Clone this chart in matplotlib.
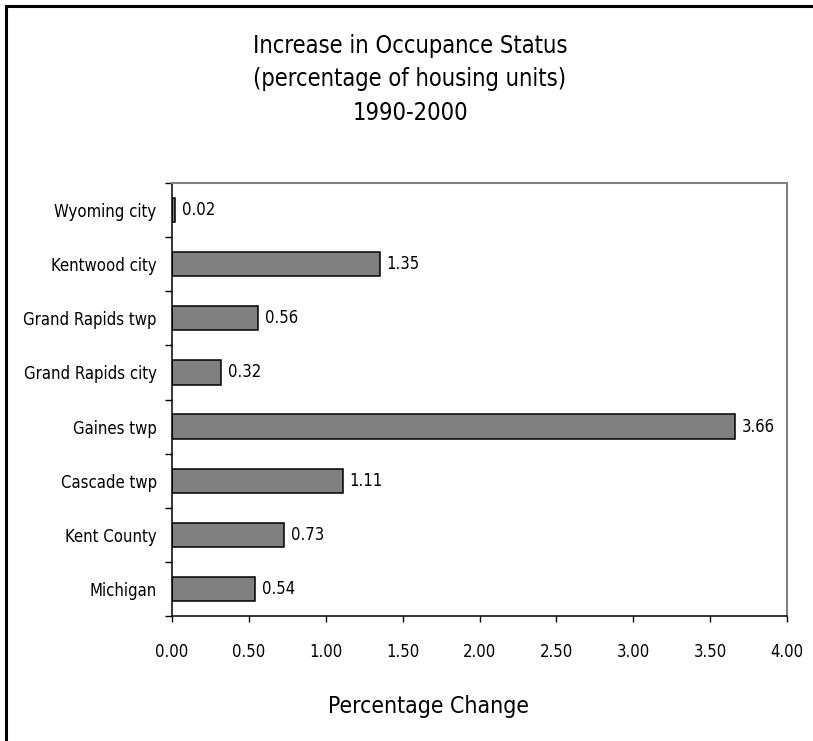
import matplotlib
matplotlib.use("Agg")
import matplotlib.pyplot as plt
from matplotlib.lines import Line2D
import numpy as np

plt.rcParams['font.family'] = ['DejaVu Sans']
plt.rcParams['font.stretch'] = 'condensed'

categories = ["Michigan", "Kent County", "Cascade twp", "Gaines twp",
              "Grand Rapids city", "Grand Rapids twp", "Kentwood city", "Wyoming city"]
values = [0.54, 0.73, 1.11, 3.66, 0.32, 0.56, 1.35, 0.02]
xticks = [0.0, 0.5, 1.0, 1.5, 2.0, 2.5, 3.0, 3.5, 4.0]
title_lines = ["Increase in Occupance Status", "(percentage of housing units)", "1990-2000"]
xlabel = "Percentage Change"

W, H = 813, 741
fig = plt.figure(figsize=(W / 100, H / 100), dpi=100)
ax = fig.add_axes([172 / W, 1 - 616 / H, (787 - 172) / W, (616 - 183) / H])

y = np.arange(len(categories))
ax.barh(y, values, height=0.45, color="#808080", edgecolor="black", linewidth=1.1)

ax.set_xlim(0, 4)
ax.set_ylim(-0.5, len(categories) - 0.5)
ax.set_xticks(xticks)
ax.set_xticklabels([f"{t:.2f}" for t in xticks], fontsize=12)
ax.set_yticks(y)
ax.set_yticklabels(categories, fontsize=12)
ax.set_yticks(np.arange(-0.5, len(categories), 1.0), minor=True)
ax.tick_params(axis="y", which="major", length=0, pad=11)
ax.tick_params(axis="y", which="minor", length=5, width=1, direction="out")
ax.tick_params(axis="x", which="major", length=4.5, width=1, direction="out", pad=15)

for side in ("left", "bottom"):
    ax.spines[side].set_color("black")
    ax.spines[side].set_linewidth(1.1)
for side in ("top", "right"):
    ax.spines[side].set_color("#808080")
    ax.spines[side].set_linewidth(1.5)

for yi, v in zip(y, values):
    ax.annotate(f"{v:.2f}", xy=(v, yi), xytext=(5, 0), textcoords="offset points",
                ha="left", va="center", fontsize=12)

for i, line in enumerate(title_lines):
    fig.text(410 / W, 1 - (45.5 + 33.5 * i) / H, line, ha="center", va="center", fontsize=17)

fig.text(428 / W, 1 - 706 / H, xlabel, ha="center", va="center", fontsize=16.5)

# outer frame (top and left edges)
fig.add_artist(Line2D([6 / W, 6 / W], [0, 1 - 6 / H], transform=fig.transFigure,
                      color="black", linewidth=2.2))
fig.add_artist(Line2D([6 / W, 1], [1 - 6 / H, 1 - 6 / H], transform=fig.transFigure,
                      color="black", linewidth=2.2))

fig.savefig("out.png", dpi=100)
